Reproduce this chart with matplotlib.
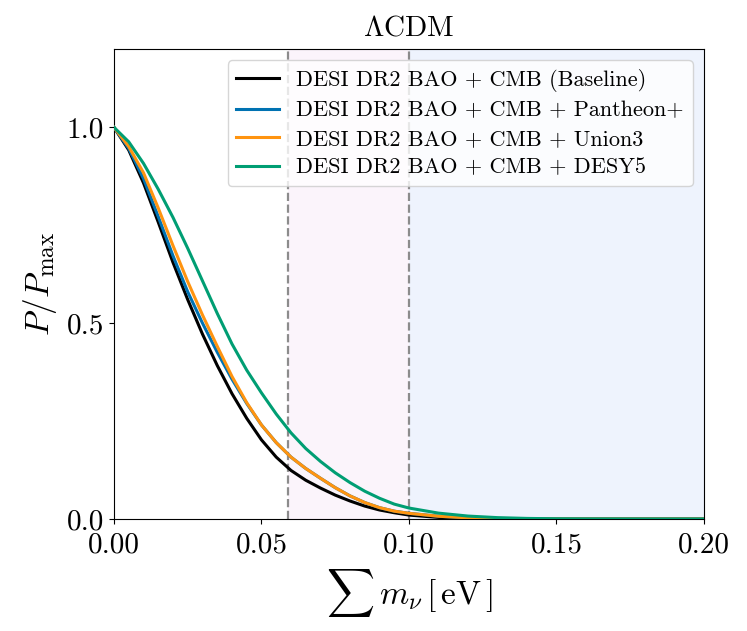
import numpy as np
import matplotlib
matplotlib.use("Agg")
import matplotlib.pyplot as plt

plt.rcParams['font.family'] = 'serif'
plt.rcParams['font.serif'] = ['cmr10']
plt.rcParams['mathtext.fontset'] = 'cm'
plt.rcParams['axes.formatter.use_mathtext'] = True

# sum of neutrino masses [eV]
mnu = [0.0, 0.005, 0.01, 0.015, 0.02, 0.025, 0.03, 0.035, 0.04, 0.045,
       0.05, 0.055, 0.06, 0.065, 0.07, 0.075, 0.08, 0.085, 0.09, 0.095,
       0.10, 0.11, 0.12, 0.13, 0.14, 0.15, 0.16, 0.18, 0.20]

# P/Pmax
p_base = [1.0, 0.942, 0.858, 0.758, 0.655, 0.560, 0.472, 0.392, 0.320, 0.257,
          0.202, 0.158, 0.124, 0.099, 0.079, 0.061, 0.046, 0.033, 0.023, 0.016,
          0.010, 0.004, 0.0015, 0.0005, 0.0002, 0.0, 0.0, 0.0, 0.0]
p_pantheon = [1.0, 0.946, 0.869, 0.772, 0.672, 0.580, 0.500, 0.426, 0.357, 0.295,
              0.240, 0.195, 0.158, 0.129, 0.104, 0.080, 0.059, 0.042, 0.029, 0.020,
              0.0145, 0.007, 0.003, 0.0012, 0.0004, 0.0001, 0.0, 0.0, 0.0]
p_union = [1.0, 0.951, 0.884, 0.794, 0.698, 0.606, 0.521, 0.441, 0.364, 0.297,
           0.240, 0.195, 0.158, 0.129, 0.104, 0.080, 0.059, 0.042, 0.029, 0.020,
           0.0145, 0.007, 0.003, 0.0012, 0.0004, 0.0001, 0.0, 0.0, 0.0]
p_desy5 = [1.0, 0.963, 0.908, 0.842, 0.770, 0.691, 0.608, 0.525, 0.447, 0.380,
           0.322, 0.268, 0.220, 0.180, 0.147, 0.118, 0.093, 0.071, 0.053, 0.038,
           0.028, 0.015, 0.0075, 0.0035, 0.0015, 0.0006, 0.0002, 0.0, 0.0]

labels = ['DESI DR2 BAO + CMB (Baseline)',
          'DESI DR2 BAO + CMB + Pantheon+',
          'DESI DR2 BAO + CMB + Union3',
          'DESI DR2 BAO + CMB + DESY5']
colors = ['black', '#0072B2', '#FF9410', '#009E73']

# mass bounds (normal / inverted ordering)
m_no = 0.059
m_io = 0.10

fig, ax = plt.subplots(figsize=(7.47, 6.31), dpi=100)
fig.subplots_adjust(left=0.1526, right=0.9424, top=0.9223, bottom=0.1775)

ax.axvspan(m_no, m_io, color='#FBF4FB', zorder=0, lw=0)
ax.axvspan(m_io, 0.2, color='#EEF3FD', zorder=0, lw=0)
ax.axvline(m_no, color='gray', ls='--', lw=1.6, alpha=0.9, zorder=1)
ax.axvline(m_io, color='gray', ls='--', lw=1.6, alpha=0.9, zorder=1)

for p, lab, c in zip([p_base, p_pantheon, p_union, p_desy5], labels, colors):
    ax.plot(mnu, p, color=c, lw=2.2, label=lab, zorder=3)

ax.set_xlim(0, 0.2)
ax.set_ylim(0, 1.2)
ax.set_xticks([0, 0.05, 0.10, 0.15, 0.20])
ax.set_xticklabels(['0.00', '0.05', '0.10', '0.15', '0.20'])
ax.set_yticks([0, 0.5, 1.0])
ax.set_yticklabels(['0.0', '0.5', '1.0'])
ax.tick_params(labelsize=21)
ax.tick_params(axis='x', pad=6)

ax.set_xlabel(r'$\sum\, m_\nu\,[\,{\rm eV}\,]$', fontsize=24, labelpad=6)
ax.set_ylabel(r'$P/P_{\rm max}$', fontsize=24, labelpad=6)
ax.set_title(r'$\Lambda$CDM', fontsize=21, pad=10)

ax.legend(loc='upper right', fontsize=16, handlelength=1.9, labelspacing=0.4)

fig.savefig('out.png', dpi=100)
